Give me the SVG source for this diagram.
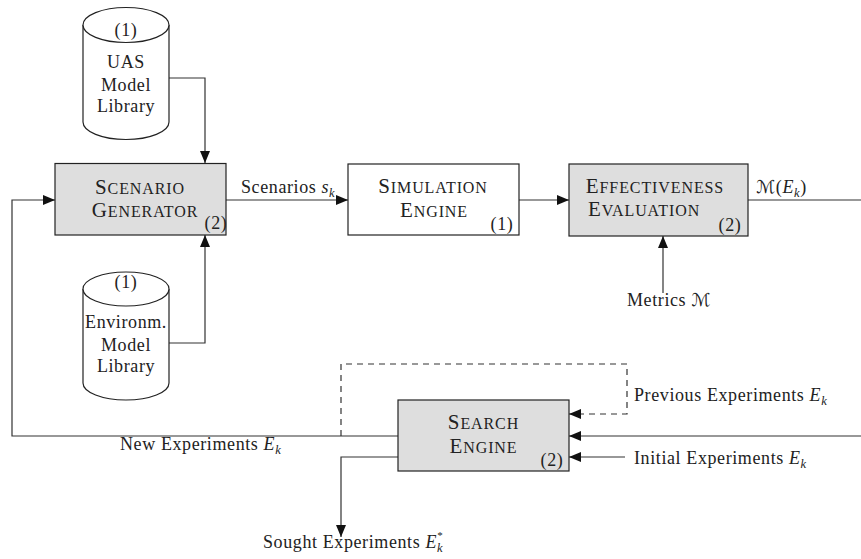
<svg xmlns="http://www.w3.org/2000/svg" width="861" height="559" viewBox="0 0 861 559" font-family="'Liberation Serif', 'Times New Roman', serif">
  <style>
    .box { stroke: #222; stroke-width: 1.2; }
    .plain { fill: #ffffff; }
    .shade { fill: #dedede; }
    .cyl { fill: #ffffff; stroke: #222; stroke-width: 1.2; }
    .wire { fill: none; stroke: #333; stroke-width: 1.2; }
    .dash { stroke-dasharray: 6 5; }
    text { font-family: "Liberation Serif", "Times New Roman", serif; fill: #222; }
    .lbl { font-size: 18px; letter-spacing: 0.6px; }
    .ttl { font-size: 21px; letter-spacing: 0.9px; text-anchor: middle; }
    .sc { font-size: 16px; }
    .mid { text-anchor: middle; }
    .it { font-style: italic; }
    .sub { font-size: 12.5px; font-style: italic; }
    .sup { font-size: 11px; }
    .cal { font-family: "DejaVu Serif", "DejaVu Sans", serif; font-style: italic; }
  </style>
  <defs>
    <marker id="tip" viewBox="0 0 12 10" refX="12" refY="5" markerWidth="12" markerHeight="10" markerUnits="userSpaceOnUse" orient="auto">
      <path d="M0,0 L12,5 L0,10 Z" fill="#111"/>
    </marker>
  </defs>

  <!-- connectors and their labels -->
  <g id="connectors">
    <path class="wire" d="M169,78 H205 V163" marker-end="url(#tip)"/>
    <path class="wire" d="M169,343 H205 V235" marker-end="url(#tip)"/>
    <path class="wire" d="M226,200 H348" marker-end="url(#tip)"/>
    <path class="wire" d="M519,200 H569" marker-end="url(#tip)"/>
    <path class="wire" d="M748,200 H861"/>
    <path class="wire" d="M663,293 V236" marker-end="url(#tip)"/>
    <path class="wire" d="M398,436 H12 V200 H55" marker-end="url(#tip)"/>
    <path class="wire" d="M861,436 H569" marker-end="url(#tip)"/>
    <path class="wire" d="M625,457 H569" marker-end="url(#tip)"/>
    <path class="wire dash" d="M341,436 V364 H627 V414 H569" marker-end="url(#tip)"/>
    <path class="wire" d="M398,457 H341 V537" marker-end="url(#tip)"/>

    <text class="lbl" x="241" y="193">Scenarios <tspan class="it">s</tspan><tspan class="sub" dy="4">k</tspan></text>
    <text class="lbl" x="756" y="193"><tspan class="cal">ℳ</tspan>(<tspan class="it">E</tspan><tspan class="sub" dy="4">k</tspan><tspan dy="-4">)</tspan></text>
    <text class="lbl" x="627" y="306">Metrics <tspan class="cal">ℳ</tspan></text>
    <text class="lbl" x="120" y="450">New Experiments <tspan class="it">E</tspan><tspan class="sub" dy="4">k</tspan></text>
    <text class="lbl" x="634" y="401">Previous Experiments <tspan class="it">E</tspan><tspan class="sub" dy="4">k</tspan></text>
    <text class="lbl" x="634" y="464">Initial Experiments <tspan class="it">E</tspan><tspan class="sub" dy="4">k</tspan></text>
    <text class="lbl" x="263" y="548">Sought Experiments <tspan class="it">E</tspan><tspan class="sub" dy="4">k</tspan><tspan class="sup" dx="-6" dy="-13">*</tspan></text>
  </g>

  <!-- UAS model library -->
  <g id="uas-library">
    <path class="cyl" d="M83,25 A43,17.5 0 0,1 169,25 V122 A43,17.5 0 0,1 83,122 Z"/>
    <path class="cyl" d="M83,25 A43,17.5 0 0,0 169,25" fill="none"/>
    <text class="lbl mid" x="126" y="36">(1)</text>
    <text class="lbl mid" x="126" y="68">UAS</text>
    <text class="lbl mid" x="126" y="91">Model</text>
    <text class="lbl mid" x="126" y="112">Library</text>
  </g>

  <!-- Environment model library -->
  <g id="env-library">
    <path class="cyl" d="M83,289 A43,17 0 0,1 169,289 V383 A43,17 0 0,1 83,383 Z"/>
    <path class="cyl" d="M83,289 A43,17 0 0,0 169,289" fill="none"/>
    <text class="lbl mid" x="126" y="288">(1)</text>
    <text class="lbl mid" x="126" y="328">Environm.</text>
    <text class="lbl mid" x="126" y="351">Model</text>
    <text class="lbl mid" x="126" y="372">Library</text>
  </g>

  <!-- Scenario generator -->
  <g id="scenario-generator">
    <rect class="box shade" x="55" y="163.5" width="171" height="71.5"/>
    <text class="ttl" x="140" y="194">S<tspan class="sc">CENARIO</tspan></text>
    <text class="ttl" x="145" y="217">G<tspan class="sc">ENERATOR</tspan></text>
    <text class="lbl mid" x="216" y="229">(2)</text>
  </g>

  <!-- Simulation engine -->
  <g id="simulation-engine">
    <rect class="box plain" x="348" y="164" width="171" height="71"/>
    <text class="ttl" x="433" y="193">S<tspan class="sc">IMULATION</tspan></text>
    <text class="ttl" x="434" y="217">E<tspan class="sc">NGINE</tspan></text>
    <text class="lbl mid" x="502" y="230">(1)</text>
  </g>

  <!-- Effectiveness evaluation -->
  <g id="effectiveness-evaluation">
    <rect class="box shade" x="569" y="164" width="179" height="72"/>
    <text class="ttl" x="655" y="193">E<tspan class="sc">FFECTIVENESS</tspan></text>
    <text class="ttl" x="644" y="216">E<tspan class="sc">VALUATION</tspan></text>
    <text class="lbl mid" x="730" y="231">(2)</text>
  </g>

  <!-- Search engine -->
  <g id="search-engine">
    <rect class="box shade" x="398" y="400" width="171" height="71"/>
    <text class="ttl" x="483.5" y="429">S<tspan class="sc">EARCH</tspan></text>
    <text class="ttl" x="483.5" y="453">E<tspan class="sc">NGINE</tspan></text>
    <text class="lbl mid" x="552" y="466">(2)</text>
  </g>
</svg>
